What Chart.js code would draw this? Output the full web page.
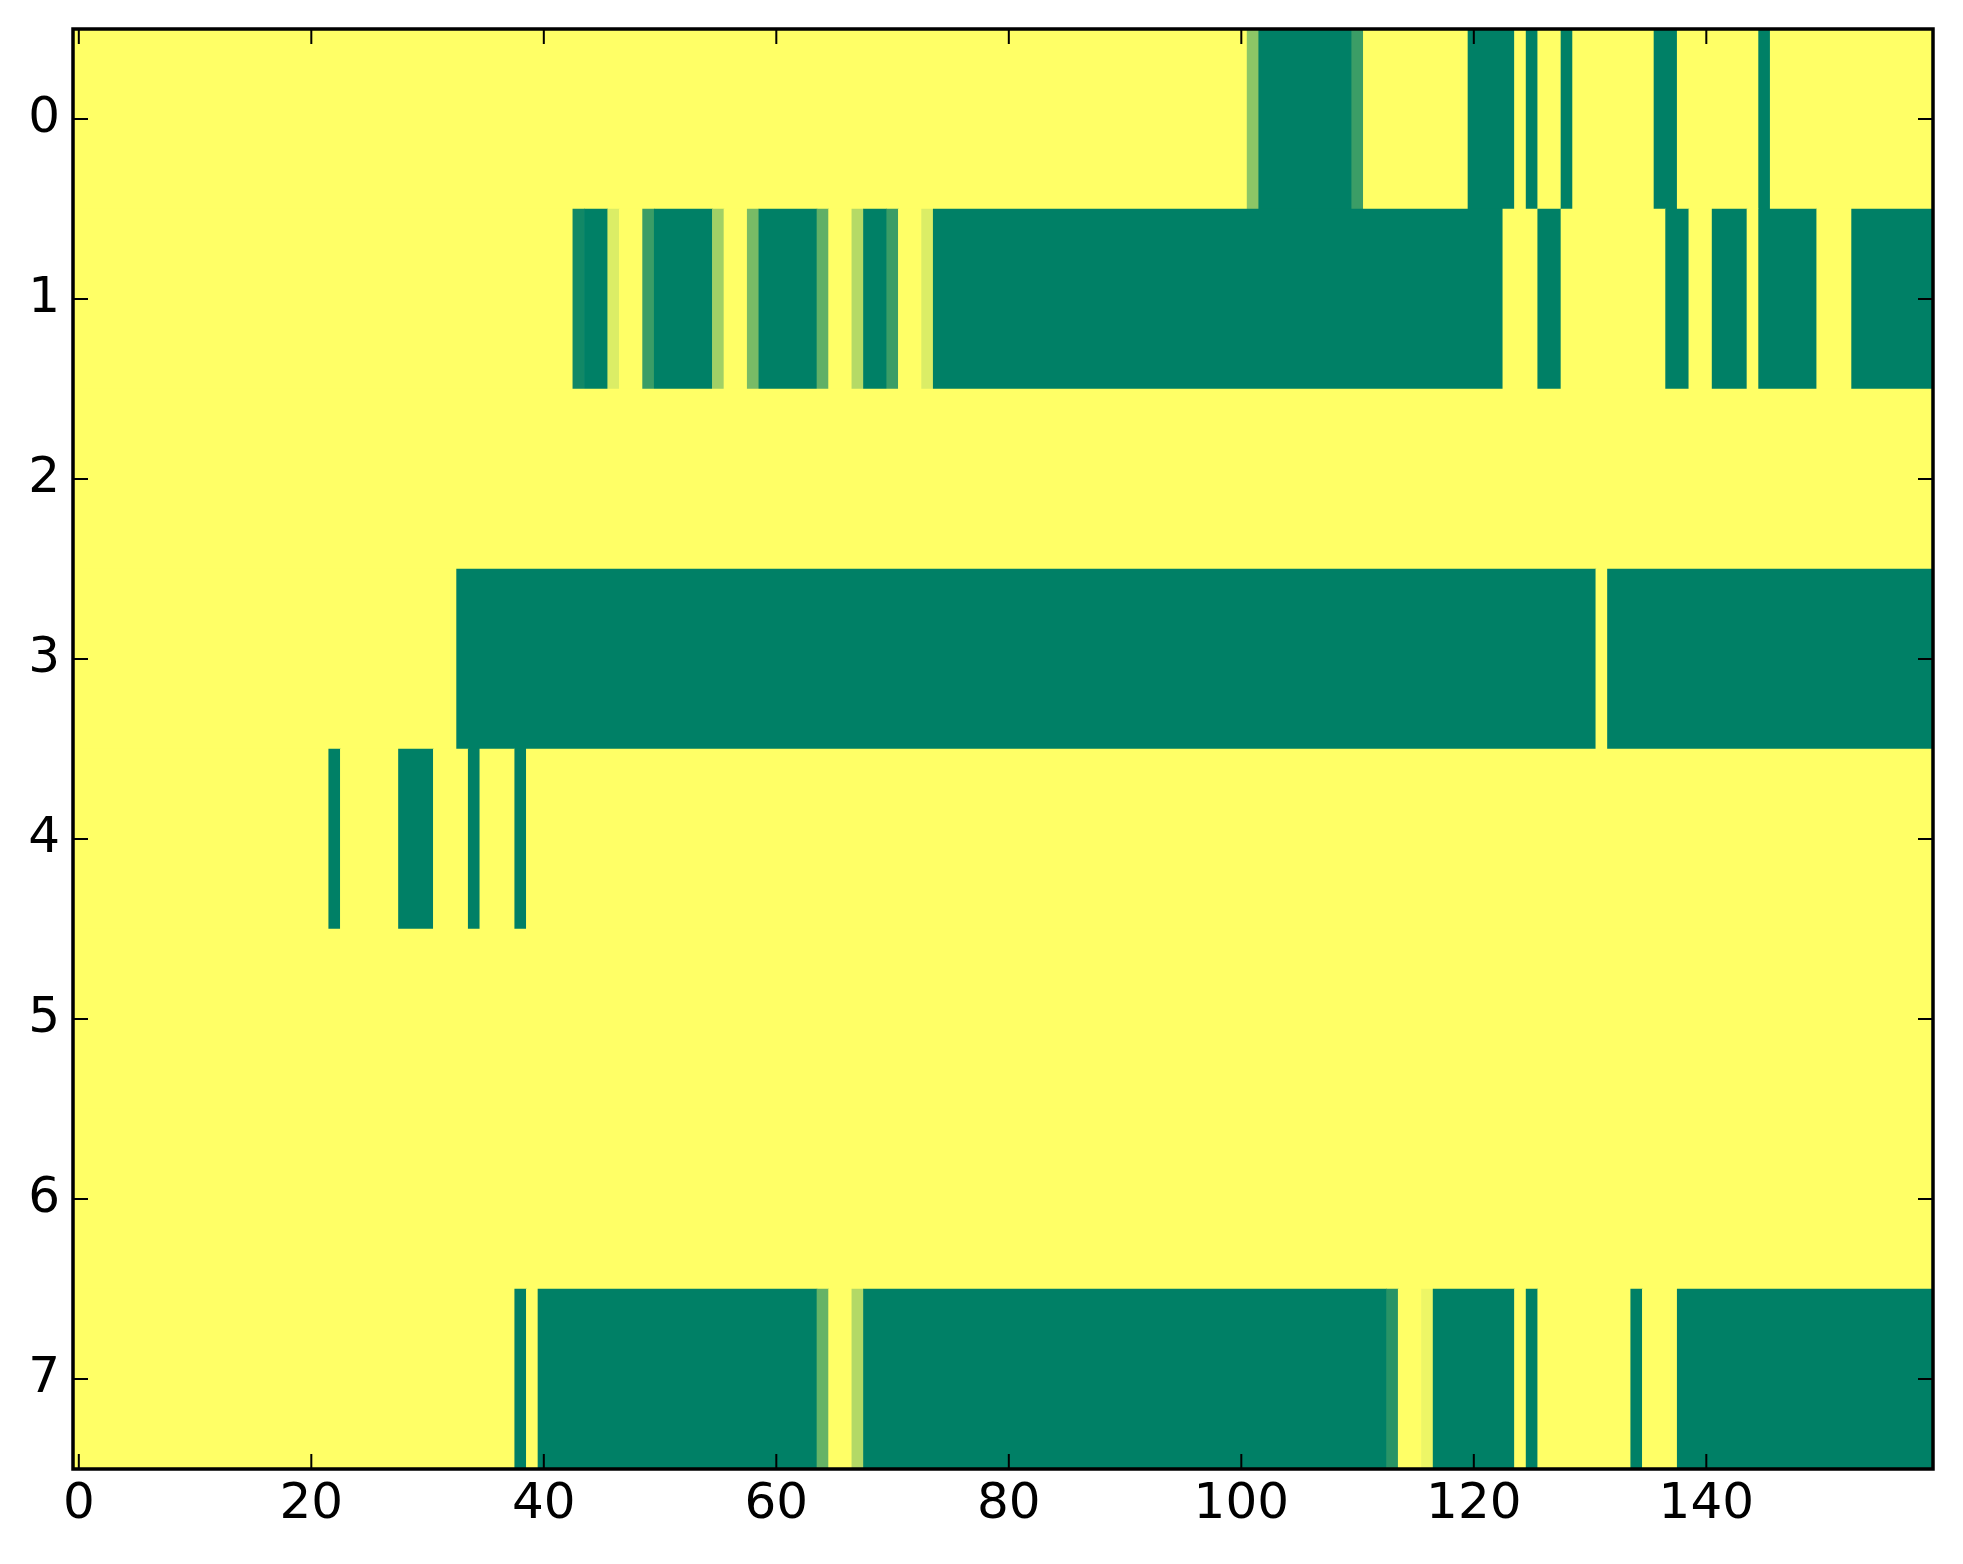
<!DOCTYPE html>
<html>
<head>
<meta charset="utf-8">
<script src="https://cdn.jsdelivr.net/npm/chart.js@4.4.0/dist/chart.umd.min.js"></script>
<style>
html,body{margin:0;padding:0;background:#fff;}
#wrap{width:1963px;height:1564px;}
</style>
</head>
<body>
<div id="wrap"><canvas id="c" width="1963" height="1564"></canvas></div>
<script>
// Row labels (y categories) and x tick labels
const rowLabels = ['0','1','2','3','4','5','6','7'];
const xTicks = [0, 20, 40, 60, 80, 100, 120, 140];

// Cell values per row (160 columns each), 0 = dark green, 1 = yellow (matplotlib "summer")
const row0 = [
  1,1,1,1,1,1,1,1,1,1,1,1,1,1,1,1,1,1,1,1,
  1,1,1,1,1,1,1,1,1,1,1,1,1,1,1,1,1,1,1,1,
  1,1,1,1,1,1,1,1,1,1,1,1,1,1,1,1,1,1,1,1,
  1,1,1,1,1,1,1,1,1,1,1,1,1,1,1,1,1,1,1,1,
  1,1,1,1,1,1,1,1,1,1,1,1,1,1,1,1,1,1,1,1,
  1,0.55,0,0,0,0,0,0,0,0,0.23,1,1,1,1,1,1,1,1,1,
  0,0,0,0,1,0,1,1,0,1,1,1,1,1,1,1,0,0,1,1,
  1,1,1,1,1,0,1,1,1,1,1,1,1,1,1,1,1,1,1,1
];
const row1 = [
  1,1,1,1,1,1,1,1,1,1,1,1,1,1,1,1,1,1,1,1,
  1,1,1,1,1,1,1,1,1,1,1,1,1,1,1,1,1,1,1,1,
  1,1,1,0.07,0,0,0.86,1,1,0.23,0,0,0,0,0,0.63,1,1,0.47,0,
  0,0,0,0,0.38,1,1,0.71,0,0,0.23,1,1,0.86,0,0,0,0,0,0,
  0,0,0,0,0,0,0,0,0,0,0,0,0,0,0,0,0,0,0,0,
  0,0,0,0,0,0,0,0,0,0,0,0,0,0,0,0,0,0,0,0,
  0,0,0,1,1,1,0,0,1,1,1,1,1,1,1,1,1,0,0,1,
  1,0,0,0,1,0,0,0,0,0,1,1,1,0,0,0,0,0,0,0
];
const row2 = [
  1,1,1,1,1,1,1,1,1,1,1,1,1,1,1,1,1,1,1,1,
  1,1,1,1,1,1,1,1,1,1,1,1,1,1,1,1,1,1,1,1,
  1,1,1,1,1,1,1,1,1,1,1,1,1,1,1,1,1,1,1,1,
  1,1,1,1,1,1,1,1,1,1,1,1,1,1,1,1,1,1,1,1,
  1,1,1,1,1,1,1,1,1,1,1,1,1,1,1,1,1,1,1,1,
  1,1,1,1,1,1,1,1,1,1,1,1,1,1,1,1,1,1,1,1,
  1,1,1,1,1,1,1,1,1,1,1,1,1,1,1,1,1,1,1,1,
  1,1,1,1,1,1,1,1,1,1,1,1,1,1,1,1,1,1,1,1
];
const row3 = [
  1,1,1,1,1,1,1,1,1,1,1,1,1,1,1,1,1,1,1,1,
  1,1,1,1,1,1,1,1,1,1,1,1,1,0,0,0,0,0,0,0,
  0,0,0,0,0,0,0,0,0,0,0,0,0,0,0,0,0,0,0,0,
  0,0,0,0,0,0,0,0,0,0,0,0,0,0,0,0,0,0,0,0,
  0,0,0,0,0,0,0,0,0,0,0,0,0,0,0,0,0,0,0,0,
  0,0,0,0,0,0,0,0,0,0,0,0,0,0,0,0,0,0,0,0,
  0,0,0,0,0,0,0,0,0,0,0,1,0,0,0,0,0,0,0,0,
  0,0,0,0,0,0,0,0,0,0,0,0,0,0,0,0,0,0,0,0
];
const row4 = [
  1,1,1,1,1,1,1,1,1,1,1,1,1,1,1,1,1,1,1,1,
  1,1,0,1,1,1,1,1,0,0,0,1,1,1,0,1,1,1,0,1,
  1,1,1,1,1,1,1,1,1,1,1,1,1,1,1,1,1,1,1,1,
  1,1,1,1,1,1,1,1,1,1,1,1,1,1,1,1,1,1,1,1,
  1,1,1,1,1,1,1,1,1,1,1,1,1,1,1,1,1,1,1,1,
  1,1,1,1,1,1,1,1,1,1,1,1,1,1,1,1,1,1,1,1,
  1,1,1,1,1,1,1,1,1,1,1,1,1,1,1,1,1,1,1,1,
  1,1,1,1,1,1,1,1,1,1,1,1,1,1,1,1,1,1,1,1
];
const row5 = [
  1,1,1,1,1,1,1,1,1,1,1,1,1,1,1,1,1,1,1,1,
  1,1,1,1,1,1,1,1,1,1,1,1,1,1,1,1,1,1,1,1,
  1,1,1,1,1,1,1,1,1,1,1,1,1,1,1,1,1,1,1,1,
  1,1,1,1,1,1,1,1,1,1,1,1,1,1,1,1,1,1,1,1,
  1,1,1,1,1,1,1,1,1,1,1,1,1,1,1,1,1,1,1,1,
  1,1,1,1,1,1,1,1,1,1,1,1,1,1,1,1,1,1,1,1,
  1,1,1,1,1,1,1,1,1,1,1,1,1,1,1,1,1,1,1,1,
  1,1,1,1,1,1,1,1,1,1,1,1,1,1,1,1,1,1,1,1
];
const row6 = [
  1,1,1,1,1,1,1,1,1,1,1,1,1,1,1,1,1,1,1,1,
  1,1,1,1,1,1,1,1,1,1,1,1,1,1,1,1,1,1,1,1,
  1,1,1,1,1,1,1,1,1,1,1,1,1,1,1,1,1,1,1,1,
  1,1,1,1,1,1,1,1,1,1,1,1,1,1,1,1,1,1,1,1,
  1,1,1,1,1,1,1,1,1,1,1,1,1,1,1,1,1,1,1,1,
  1,1,1,1,1,1,1,1,1,1,1,1,1,1,1,1,1,1,1,1,
  1,1,1,1,1,1,1,1,1,1,1,1,1,1,1,1,1,1,1,1,
  1,1,1,1,1,1,1,1,1,1,1,1,1,1,1,1,1,1,1,1
];
const row7 = [
  1,1,1,1,1,1,1,1,1,1,1,1,1,1,1,1,1,1,1,1,
  1,1,1,1,1,1,1,1,1,1,1,1,1,1,1,1,1,1,0,1,
  0,0,0,0,0,0,0,0,0,0,0,0,0,0,0,0,0,0,0,0,
  0,0,0,0,0.4,1,1,0.7,0,0,0,0,0,0,0,0,0,0,0,0,
  0,0,0,0,0,0,0,0,0,0,0,0,0,0,0,0,0,0,0,0,
  0,0,0,0,0,0,0,0,0,0,0,0,0,0.16,1,1,0.93,0,0,0,
  0,0,0,0,1,0,1,1,1,1,1,1,1,1,0,1,1,1,0,0,
  0,0,0,0,0,0,0,0,0,0,0,0,0,0,0,0,0,0,0,0
];
const rows = [row0, row1, row2, row3, row4, row5, row6, row7];

// matplotlib "summer" colormap
function summer(v) {
  const r = Math.round(255 * v);
  const g = Math.round(255 * (0.5 + 0.5 * v));
  return 'rgb(' + r + ',' + g + ',102)';
}

// Merge consecutive equal cells into floating bars spanning [start-0.5, end+0.5]
const cells = [];
rows.forEach((vals, r) => {
  let start = 0;
  for (let c = 1; c <= vals.length; c++) {
    if (c === vals.length || vals[c] !== vals[start]) {
      cells.push({ x: [start - 0.5, c - 0.5], y: rowLabels[r], v: vals[start] });
      start = c;
    }
  }
});

const FONT = { family: "'DejaVu Sans', sans-serif", size: 50 };

const framePlugin = {
  id: 'frame',
  afterDraw(chart) {
    const { ctx, chartArea: a, scales } = chart;
    ctx.save();
    ctx.strokeStyle = '#000';
    ctx.lineWidth = 2;
    const L = 15;
    ctx.beginPath();
    xTicks.forEach(v => {
      const px = scales.x.getPixelForValue(v);
      ctx.moveTo(px, a.bottom); ctx.lineTo(px, a.bottom - L);
      ctx.moveTo(px, a.top); ctx.lineTo(px, a.top + L);
    });
    rowLabels.forEach((lab, i) => {
      const py = scales.y.getPixelForValue(i);
      ctx.moveTo(a.left, py); ctx.lineTo(a.left + L, py);
      ctx.moveTo(a.right, py); ctx.lineTo(a.right - L, py);
    });
    ctx.stroke();
    ctx.lineWidth = 3.5;
    ctx.strokeRect(a.left, a.top, a.right - a.left, a.bottom - a.top);
    ctx.restore();
  }
};

new Chart(document.getElementById('c'), {
  type: 'bar',
  data: {
    labels: rowLabels,
    datasets: [{
      data: cells,
      backgroundColor: ctx => summer(ctx.raw ? ctx.raw.v : 1),
      borderWidth: 0,
      barPercentage: 1,
      categoryPercentage: 1
    }]
  },
  options: {
    indexAxis: 'y',
    responsive: false,
    animation: false,
    devicePixelRatio: 1,
    layout: { padding: { top: 29, right: 30, left: 0, bottom: 0 } },
    plugins: { legend: { display: false }, tooltip: { enabled: false } },
    scales: {
      x: {
        type: 'linear',
        min: -0.5,
        max: 159.5,
        grid: { display: false, drawTicks: false },
        border: { display: false },
        ticks: { color: '#000', font: FONT, padding: 6, maxRotation: 0 },
        afterBuildTicks: s => { s.ticks = xTicks.map(v => ({ value: v })); },
        afterFit: s => { s.height = 95; s.paddingLeft = 0; s.paddingRight = 0; }
      },
      y: {
        type: 'category',
        grid: { display: false, drawTicks: false },
        border: { display: false },
        ticks: { color: '#000', font: FONT, padding: 13 },
        afterFit: s => { s.width = 73; s.paddingTop = 0; s.paddingBottom = 0; }
      }
    }
  },
  plugins: [framePlugin]
});
</script>
</body>
</html>
